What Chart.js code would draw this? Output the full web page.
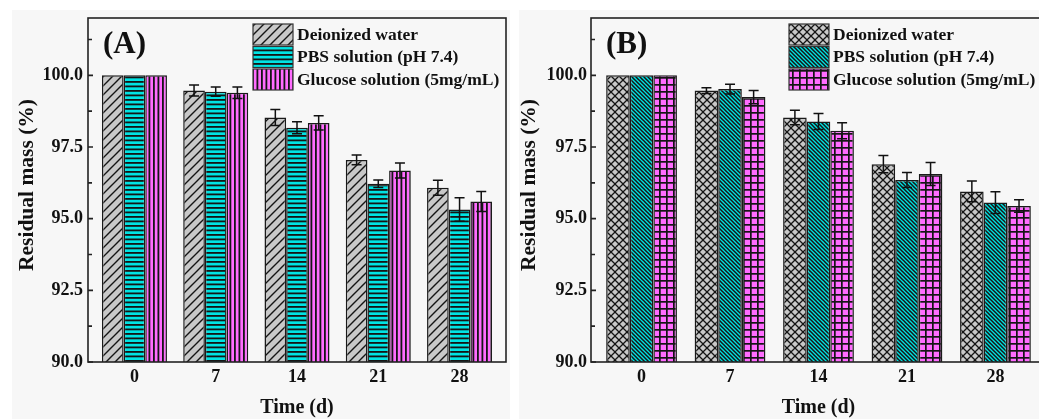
<!DOCTYPE html>
<html>
<head>
<meta charset="utf-8">
<script src="https://cdn.jsdelivr.net/npm/chart.js@4.4.1/dist/chart.umd.min.js"></script>
<style>
  html, body { margin: 0; padding: 0; background: #fff; overflow: hidden; width: 1039px; height: 419px; }
  .bg { position: absolute; background: #f7f7f7; }
  canvas { position: absolute; top: 0; }
</style>
</head>
<body>
<div class="bg" style="left:12px;top:10px;width:498px;height:409px"></div>
<div class="bg" style="left:519px;top:10px;width:520px;height:409px"></div>
<canvas id="chartA" width="519" height="419" style="left:0"></canvas>
<canvas id="chartB" width="540" height="419" style="left:519px"></canvas>
<script>
const days = [0, 7, 14, 21, 28];
const dayLabels = ['0', '7', '14', '21', '28'];
const seriesNames = ['Deionized water', 'PBS solution (pH 7.4)', 'Glucose solution (5mg/mL)'];
const yTicks = [90, 92.5, 95, 97.5, 100];
const yMinor = [91.25, 93.75, 96.25, 98.75, 101.25];

// panel A
const waterA = [100, 99.47, 98.53, 97.05, 96.08];
const waterAErr = [0, 0.19, 0.28, 0.17, 0.26];
const pbsA = [100, 99.43, 98.17, 96.22, 95.32];
const pbsAErr = [0, 0.16, 0.21, 0.13, 0.41];
const glucoseA = [100, 99.39, 98.34, 96.68, 95.6];
const glucoseAErr = [0, 0.2, 0.25, 0.26, 0.35];

// panel B
const waterB = [100, 99.47, 98.53, 96.9, 95.95];
const waterBErr = [0, 0.1, 0.25, 0.3, 0.36];
const pbsB = [100, 99.52, 98.39, 96.35, 95.56];
const pbsBErr = [0, 0.17, 0.28, 0.26, 0.38];
const glucoseB = [100, 99.24, 98.07, 96.56, 95.44];
const glucoseBErr = [0, 0.23, 0.28, 0.4, 0.22];

const FONT = '"Liberation Serif", "Times New Roman", serif';

function tile(ctx, size, bg, draw) {
    const c = document.createElement('canvas');
    c.width = size; c.height = size;
    const g = c.getContext('2d');
    g.fillStyle = bg;
    g.fillRect(0, 0, size, size);
    g.strokeStyle = '#151515';
    g.fillStyle = '#151515';
    draw(g, size);
    return ctx.createPattern(c, 'repeat');
}

function slash(g, s) {
    g.beginPath();
    g.moveTo(-1, s + 1); g.lineTo(s + 1, -1);
    g.moveTo(-1, 1); g.lineTo(1, -1);
    g.moveTo(s - 1, s + 1); g.lineTo(s + 1, s - 1);
    g.stroke();
}
function backslash(g, s) {
    g.beginPath();
    g.moveTo(-1, -1); g.lineTo(s + 1, s + 1);
    g.moveTo(s - 1, -1); g.lineTo(s + 1, 1);
    g.moveTo(-1, s - 1); g.lineTo(1, s + 1);
    g.stroke();
}

function makeChart(id, tag, values, errs, fills, opts) {
    const canvas = document.getElementById(id);
    const datasets = seriesNames.map((name, k) => ({
        label: name,
        data: days.map((d, i) => ({ x: d, y: values[k][i] })),
        backgroundColor: fills[k],
        borderColor: '#1a1a1a',
        borderWidth: 1.5,
        categoryPercentage: 0.8,
        barPercentage: 1.0
    }));

    const extras = {
        id: 'extras' + tag,
        afterDatasetsDraw(chart) {
            const c = chart.ctx, y = chart.scales.y;
            c.save();
            c.strokeStyle = '#111';
            c.lineWidth = 1.5;
            chart.data.datasets.forEach((ds, k) => {
                chart.getDatasetMeta(k).data.forEach((bar, i) => {
                    const e = errs[k][i];
                    if (!e) return;
                    const v = values[k][i];
                    const top = y.getPixelForValue(v + e), bot = y.getPixelForValue(v - e);
                    c.beginPath();
                    c.moveTo(bar.x, top); c.lineTo(bar.x, bot);
                    c.moveTo(bar.x - 5, top); c.lineTo(bar.x + 5, top);
                    c.moveTo(bar.x - 5, bot); c.lineTo(bar.x + 5, bot);
                    c.stroke();
                });
            });
            c.restore();
        },
        afterDraw(chart) {
            const c = chart.ctx, a = chart.chartArea, y = chart.scales.y;
            c.save();
            c.strokeStyle = '#222';
            c.lineWidth = 1.6;
            c.strokeRect(a.left, a.top, a.right - a.left, a.bottom - a.top);
            c.beginPath();
            yTicks.forEach(v => {
                const p = y.getPixelForValue(v);
                c.moveTo(a.left, p); c.lineTo(a.left + 5, p);
            });
            yMinor.forEach(v => {
                const p = y.getPixelForValue(v);
                c.moveTo(a.left, p); c.lineTo(a.left + 4, p);
            });
            c.stroke();

            c.fillStyle = '#111';
            c.font = 'bold 31px ' + FONT;
            c.textAlign = 'left';
            c.textBaseline = 'alphabetic';
            c.fillText(tag, a.left + 15, 53);

            // legend
            c.font = 'bold 17.5px ' + FONT;
            c.textBaseline = 'middle';
            seriesNames.forEach((name, k) => {
                const bx = a.left + opts.legendLeft, by = 24 + k * 22.5;
                c.fillStyle = fills[k];
                c.fillRect(bx, by, 40, 21);
                c.lineWidth = 1.2;
                c.strokeStyle = '#333';
                c.strokeRect(bx, by, 40, 21);
                c.fillStyle = '#111';
                c.fillText(name, bx + 44, by + 11);
            });

            // axis titles
            c.font = 'bold 20px ' + FONT;
            c.textAlign = 'center';
            c.fillText('Time (d)', (a.left + a.right) / 2, 408);
            c.font = 'bold 21.5px ' + FONT;
            c.translate(opts.yTitleX, (a.top + a.bottom) / 2 - 5);
            c.rotate(-Math.PI / 2);
            c.fillText('Residual mass (%)', 0, 0);
            c.restore();
        }
    };

    const tickFont = { family: FONT, size: 18, weight: 'bold' };

    return new Chart(canvas, {
        type: 'bar',
        data: { datasets: datasets },
        options: {
            responsive: false,
            animation: false,
            layout: { padding: { top: 18, right: 13, bottom: 0, left: 0 } },
            plugins: { legend: { display: false }, tooltip: { enabled: false } },
            scales: {
                x: {
                    type: 'linear',
                    min: -4,
                    max: 32,
                    offset: false,
                    grid: { display: false, drawTicks: false },
                    border: { display: false },
                    afterBuildTicks: s => { s.ticks = days.map(v => ({ value: v })); },
                    afterFit: s => { s.height = 57; },
                    ticks: {
                        callback: (v, i) => dayLabels[i],
                        font: tickFont,
                        color: '#111',
                        padding: 5,
                        maxRotation: 0,
                        autoSkip: false
                    }
                },
                y: {
                    min: 90,
                    max: 102,
                    grid: { display: false, drawTicks: false },
                    border: { display: false },
                    afterBuildTicks: s => { s.ticks = yTicks.map(v => ({ value: v })); },
                    afterFit: s => { s.width = opts.yWidth; },
                    ticks: {
                        callback: v => v.toFixed(1),
                        font: tickFont,
                        color: '#111',
                        padding: opts.yPad
                    }
                }
            }
        },
        plugins: [extras]
    });
}

const ctxA = document.getElementById('chartA').getContext('2d');
const ctxB = document.getElementById('chartB').getContext('2d');

const GRAY = '#c8c8c8', CYAN = '#00e3e3', PINK = '#ff6cff';

const fillsA = [
    tile(ctxA, 9, GRAY, (g, s) => { g.lineWidth = 1.4; slash(g, s); }),
    tile(ctxA, 9, CYAN, (g, s) => { g.fillRect(0, 0, s, 1.8); g.fillRect(0, 4.5, s, 1.8); }),
    tile(ctxA, 9, PINK, (g, s) => { g.fillRect(0, 0, 1.8, s); g.fillRect(4.5, 0, 1.8, s); })
];
const fillsB = [
    tile(ctxB, 8, GRAY, (g, s) => { g.lineWidth = 1.3; slash(g, s); backslash(g, s); }),
    tile(ctxB, 4, CYAN, (g, s) => { g.lineWidth = 1.5; backslash(g, s); }),
    tile(ctxB, 7, PINK, (g, s) => { g.fillRect(0, 0, s, 1.7); g.fillRect(0, 0, 1.7, s); })
];

makeChart('chartA', '(A)', [waterA, pbsA, glucoseA], [waterAErr, pbsAErr, glucoseAErr], fillsA,
    { legendLeft: 165, yTitleX: 27, yWidth: 88, yPad: 5 });
makeChart('chartB', '(B)', [waterB, pbsB, glucoseB], [waterBErr, pbsBErr, glucoseBErr], fillsB,
    { legendLeft: 198, yTitleX: 10, yWidth: 72, yPad: 4 });
</script>
</body>
</html>
